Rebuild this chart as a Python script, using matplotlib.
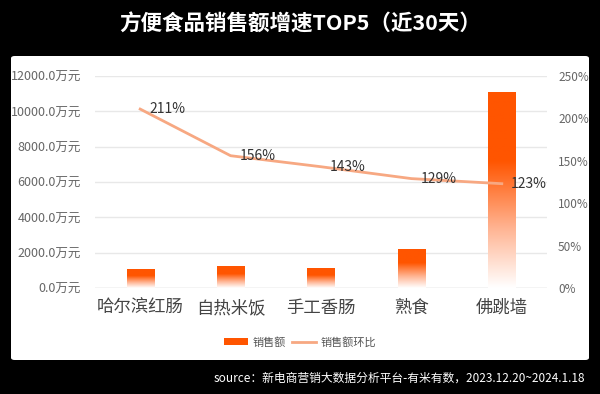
import numpy as np
import matplotlib
matplotlib.use('Agg')
import matplotlib.pyplot as plt
from matplotlib.colors import LinearSegmentedColormap
from matplotlib.patches import FancyBboxPatch, Patch
from matplotlib.lines import Line2D

plt.rcParams['font.family'] = ['Noto Sans CJK SC', 'DejaVu Sans']

categories = ['哈尔滨红肠', '自热米饭', '手工香肠', '熟食', '佛跳墙']
sales = [1075, 1190, 1130, 2200, 11040]          # 万元
growth = [211, 156, 143, 129, 123]                # %
left_ticks = [0, 2000, 4000, 6000, 8000, 10000, 12000]
right_ticks = [0, 50, 100, 150, 200, 250]

title = '方便食品销售额增速TOP5（近30天）'
source = 'source：新电商营销大数据分析平台-有米有数，2023.12.20~2024.1.18'

bar_color = '#ff5500'
line_color = '#f7a882'

fig = plt.figure(figsize=(6, 3.94), dpi=100, facecolor='black')

# white panel behind the axes
panel = FancyBboxPatch((11 / 600, 1 - 360 / 394), 578 / 600, 304 / 394,
                       boxstyle='round,pad=0,rounding_size=0.006',
                       transform=fig.transFigure, facecolor='white',
                       edgecolor='none', zorder=-5)
fig.patches.append(panel)

fig.text(0.5, 1 - 24 / 394, title, color='white', fontsize=15.5,
         fontweight='bold', ha='center', va='center')
fig.text(585 / 600, 1 - 378 / 394, source, color='white', fontsize=8.5,
         ha='right', va='center')

ax = fig.add_axes([95 / 600, 1 - 288 / 394, 452 / 600, 212 / 394])
ax.set_facecolor('none')
x = np.arange(len(categories))
w = 0.3

# vertical gradient, solid at the top fading to white at the base
grad = LinearSegmentedColormap.from_list(
    'g', [(0, 'white'), (0.3, '#ffb594'), (0.65, bar_color), (1, bar_color)])
img = np.linspace(0, 1, 256).reshape(-1, 1)
for xi, h in zip(x, sales):
    ax.imshow(img, cmap=grad, origin='lower', aspect='auto',
              extent=[xi - w / 2, xi + w / 2, 0, h], zorder=2)

ax.set_xlim(-0.5, len(categories) - 0.5)
ax.set_ylim(0, 12000)
ax.set_yticks(left_ticks)
ax.set_yticklabels(['%.1f万元' % v for v in left_ticks], color='#666666',
                   fontsize=9)
ax.set_xticks(x)
ax.set_xticklabels(categories, fontsize=12.5, color='#444444')
ax.tick_params(axis='both', length=0)
ax.tick_params(axis='x', pad=8)
ax.tick_params(axis='y', pad=10)
ax.grid(axis='y', color='#e8e8e8', linewidth=1)
ax.set_axisbelow(True)
for s in ax.spines.values():
    s.set_visible(False)
ax.axhline(0, color='#dddddd', linewidth=1, zorder=1)

ax2 = ax.twinx()
ax2.plot(x, growth, color=line_color, linewidth=2, zorder=3)
for xi, g in zip(x, growth):
    ax2.text(xi + 0.1, g, '%d%%' % g, fontsize=10, color='#333333',
             ha='left', va='center', zorder=4)
ax2.set_ylim(0, 250)
ax2.set_yticks(right_ticks)
ax2.set_yticklabels(['%d%%' % v for v in right_ticks], color='#666666',
                    fontsize=8.5)
ax2.tick_params(axis='y', length=0, pad=8)
for s in ax2.spines.values():
    s.set_visible(False)

handles = [Patch(facecolor=bar_color, edgecolor='none'),
           Line2D([0], [0], color=line_color, linewidth=2)]
fig.legend(handles, ['销售额', '销售额环比'], loc='center',
           bbox_to_anchor=(0.5, 1 - 342 / 394), ncol=2, frameon=False,
           fontsize=8, labelcolor='#555555', handlelength=2.2,
           handleheight=0.6, columnspacing=0.5, handletextpad=0.4)

fig.savefig('out.png', dpi=100, facecolor='black')
